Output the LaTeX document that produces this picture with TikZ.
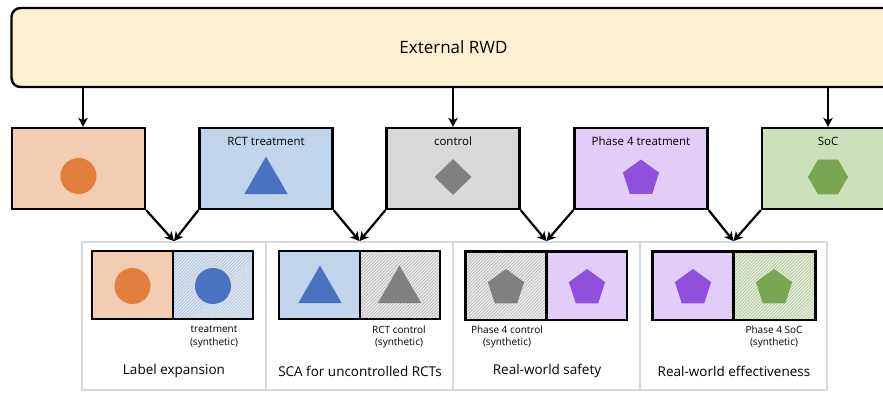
\documentclass[tikz,border=0pt]{standalone}
\usepackage{fontspec}
\setmainfont{Open Sans}
\usetikzlibrary{arrows.meta,shapes.geometric,patterns.meta}
\definecolor{rwdfill}{HTML}{FBF0D0}
\definecolor{orfill}{HTML}{F2CDB1}
\definecolor{orshape}{HTML}{E07F40}
\definecolor{blfill}{HTML}{C0D6EC}
\definecolor{blshape}{HTML}{4A72C0}
\definecolor{blsyn}{HTML}{DCE6F0}
\definecolor{blhatch}{HTML}{A4B8D2}
\definecolor{gyfill}{HTML}{D9D9D9}
\definecolor{gyshape}{HTML}{808080}
\definecolor{gysyn}{HTML}{EBEBEB}
\definecolor{gyhatch}{HTML}{ABABAB}
\definecolor{pufill}{HTML}{E2CCF8}
\definecolor{pushape}{HTML}{9050DC}
\definecolor{grfill}{HTML}{CBDFB8}
\definecolor{grshape}{HTML}{78A652}
\definecolor{grsyn}{HTML}{E4EDDA}
\definecolor{grhatch}{HTML}{A6BF8E}
\definecolor{panel}{HTML}{D9D9D9}
\begin{document}
\begin{tikzpicture}[x=1pt,y=-1pt,
  arr/.style={line width=2.2pt,-{Stealth[length=9pt,width=9.5pt,inset=2.5pt]}},
  src/.style={draw=black,line width=2.4pt,minimum width=133pt,minimum height=81pt,inner sep=0pt},
  half/.style={minimum width=80.5pt,minimum height=68pt,inner sep=0pt,draw=none},
  hatch/.style={postaction={pattern={Lines[angle=45,distance=2.3pt,line width=0.5pt]},pattern color=#1}},
  frame/.style={line width=2.4pt},
  cell/.style={draw=panel,line width=1.8pt,minimum height=148pt,inner sep=0pt},
  ttl/.style={font=\fontsize{11.5}{13}\selectfont},
  sub/.style={font=\fontsize{10}{12.5}\selectfont,align=center},
  big/.style={font=\fontsize{13.5}{16}\selectfont},
  circ/.style={circle,minimum size=36pt,inner sep=0pt},
  tri/.style={regular polygon,regular polygon sides=3,minimum size=50pt,inner sep=0pt},
  pent/.style={regular polygon,regular polygon sides=5,minimum size=38pt,inner sep=0pt},
  hexa/.style={regular polygon,regular polygon sides=6,minimum size=40pt,inner sep=0pt},
  dia/.style={diamond,minimum width=37pt,minimum height=36pt,inner sep=0pt}]
\useasboundingbox (0,0) rectangle (883,392);
\clip (0,0) rectangle (883,392);

% top box
\node[draw=black,line width=2.4pt,fill=rwdfill,rounded corners=9pt,minimum width=884pt,minimum height=79pt,inner sep=0pt,font=\fontsize{17}{20}\selectfont] (rwd) at (453.5,47.5) {External RWD};

% source boxes
\node[src,fill=orfill] (b1) at (78.5,168.5) {};
\node[src,fill=blfill] (b2) at (266,168.5) {};
\node[src,fill=gyfill] (b3) at (453,168.5) {};
\node[src,fill=pufill] (b4) at (641,168.5) {};
\node[src,fill=grfill] (b5) at (828.5,168.5) {};

\node[ttl] (t2) at (266,141) {RCT treatment};
\node[ttl] (t3) at (453,141) {control};
\node[ttl] (t4) at (641,141) {Phase 4 treatment};
\node[ttl] (t5) at (828,141) {SoC};

\node[circ,fill=orshape] (s1) at (78.5,176) {};
\node[tri,fill=blshape] (s2) at (266,181.5) {};
\node[dia,fill=gyshape] (s3) at (453,177) {};
\node[pent,fill=pushape] (s4) at (641,178.5) {};
\node[hexa,fill=grshape] (s5) at (828,177) {};

% arrows from RWD
\coordinate (a1) at (83,87);
\coordinate (a3) at (453,87);
\coordinate (a5) at (828,87);
\draw[arr] (a1) -- (a1 |- b1.north);
\draw[arr] (a3) -- (a3 |- b3.north);
\draw[arr] (a5) -- (a5 |- b5.north);

% panel cells
\node[cell,minimum width=184pt] (p1) at (174,316) {};
\node[cell,minimum width=187pt] (p2) at (359.5,316) {};
\node[cell,minimum width=187pt] (p3) at (546.5,316) {};
\node[cell,minimum width=187pt] (p4) at (733.5,316) {};

% arrows into cells
\draw[arr] (b1.south east) -- (p1.north);
\draw[arr] (b2.south west) -- (p1.north);
\draw[arr] (b2.south east) -- (p2.north);
\draw[arr] (b3.south west) -- (p2.north);
\draw[arr] (b3.south east) -- (p3.north);
\draw[arr] (b4.south west) -- (p3.north);
\draw[arr] (b4.south east) -- (p4.north);
\draw[arr] (b5.south west) -- (p4.north);

% cell 1
\node[half,fill=orfill] (c1l) at (132.25,285) {};
\node[half,fill=blsyn,hatch=blhatch] (c1r) at (212.75,285) {};
\draw[frame] (c1l.north west) rectangle (c1r.south east);
\draw[frame] (c1l.north east) -- (c1l.south east);
\node[circ,fill=orshape] (d1l) at (132.5,286) {};
\node[circ,fill=blshape] (d1r) at (213,286) {};
\node[sub] (l1) at (214,337) {treatment\\(synthetic)};
\node[big] (n1) at (174,371) {Label expansion};

% cell 2
\node[half,fill=blfill] (c2l) at (319.25,285) {};
\node[half,fill=gysyn,hatch=gyhatch] (c2r) at (399.75,285) {};
\draw[frame] (c2l.north west) rectangle (c2r.south east);
\draw[frame] (c2l.north east) -- (c2l.south east);
\node[tri,fill=blshape] (d2l) at (320,290.5) {};
\node[tri,fill=gyshape] (d2r) at (399.5,290.5) {};
\node[sub] (l2) at (399,337) {RCT control\\(synthetic)};
\node[big] (n2) at (360,371) {SCA for uncontrolled RCTs};

% cell 3
\node[half,fill=gysyn,hatch=gyhatch] (c3l) at (506,285.5) {};
\node[half,fill=pufill] (c3r) at (586.5,285.5) {};
\draw[frame] (c3l.north west) rectangle (c3r.south east);
\draw[frame] (c3l.north east) -- (c3l.south east);
\node[pent,fill=gyshape] (d3l) at (506,288) {};
\node[pent,fill=pushape] (d3r) at (587,288) {};
\node[sub] (l3) at (507,337) {Phase 4 control\\(synthetic)};
\node[big] (n3) at (547,371) {Real-world safety};

% cell 4
\node[half,fill=pufill] (c4l) at (693,285.5) {};
\node[half,fill=grsyn,hatch=grhatch] (c4r) at (775,285.5) {};
\draw[frame] (c4l.north west) rectangle (c4r.south east);
\draw[frame] (c4l.north east) -- (c4l.south east);
\node[pent,fill=pushape] (d4l) at (693,288) {};
\node[pent,fill=grshape] (d4r) at (774,288) {};
\node[sub] (l4) at (774,337) {Phase 4 SoC\\(synthetic)};
\node[big] (n4) at (734,371) {Real-world effectiveness};
\end{tikzpicture}
\end{document}
